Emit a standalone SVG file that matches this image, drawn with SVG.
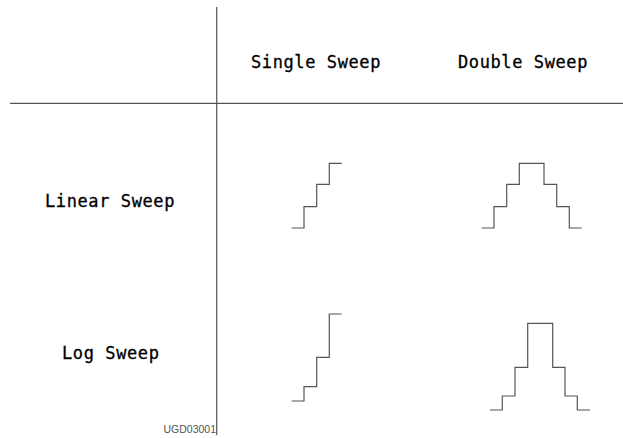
<svg xmlns="http://www.w3.org/2000/svg" width="623" height="438" viewBox="0 0 623 438">
<style>
.ln{fill:none;stroke:#555;stroke-width:1.2}
.lbl{font-family:"DejaVu Sans Mono","Liberation Mono",monospace;font-size:17px;fill:#000;stroke:#000;stroke-width:0.3;letter-spacing:0.6px}
.id{font-family:"Liberation Sans",Arial,sans-serif;font-size:10.5px;fill:#555}
</style>
<rect width="623" height="438" fill="#fff"/>
<g id="grid">
<line class="ln" x1="216.7" y1="7" x2="216.7" y2="435"/>
<line class="ln" x1="10" y1="103.3" x2="623" y2="103.3"/>
</g>
<g id="headers">
<text class="lbl" x="251" y="68">Single Sweep</text>
<text class="lbl" x="458" y="68">Double Sweep</text>
<text class="lbl" x="45" y="206.5">Linear Sweep</text>
<text class="lbl" x="62" y="358.5">Log Sweep</text>
</g>
<g id="linear-single">
<path class="ln" d="M291.7 228H304V206.7H316.7V184.3H329.3V163.3H341.7"/>
</g>
<g id="linear-double">
<path class="ln" d="M481.7 228H494V206.7H506.7V184.3H519.3V163.3H544V184.3H556.7V206.7H569.3V228H581.7"/>
</g>
<g id="log-single">
<path class="ln" d="M291.7 401H304V386.7H316.7V357.3H329.3V314H341.7"/>
</g>
<g id="log-double">
<path class="ln" d="M490 410H502.3V396H515V367.3H527.7V323.3H552.7V367.3H565V396H577.3V410H590"/>
</g>
<text class="id" x="163.5" y="433">UGD03001</text>
</svg>
